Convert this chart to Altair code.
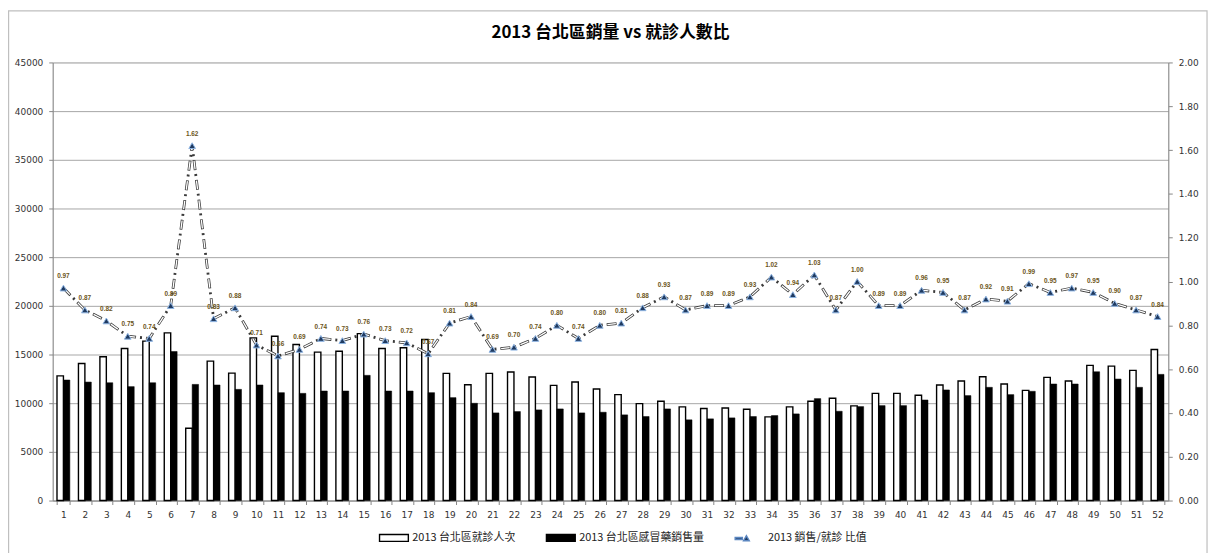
import altair as alt
import pandas as pd

# ---------------- data ----------------
weeks = list(range(1, 53))
visits = [12800, 14080, 14770, 15620, 16370, 17220, 7430, 14320, 13090, 16710,
          16880, 16030, 15240, 15340, 17150, 15620, 15690, 16540, 13060, 11900,
          13060, 13200, 12690, 11830, 12170, 11460, 10880, 9960, 10200, 9620,
          9450, 9510, 9380, 8590, 9620, 10200, 10500, 9720, 11010, 11010,
          10810, 11870, 12280, 12720, 11970, 11320, 12650, 12280, 13880, 13810,
          13370, 15520]
sales = [12380, 12170, 12100, 11700, 12100, 15310, 11930, 11870, 11420, 11870,
         11080, 11010, 11250, 11250, 12860, 11250, 11250, 11080, 10570, 9990,
         9000, 9140, 9310, 9410, 9000, 9070, 8800, 8630, 9410, 8290,
         8390, 8490, 8630, 8730, 8900, 10470, 9170, 9650, 9750, 9750,
         10330, 11360, 10780, 11630, 10880, 11220, 11970, 11970, 13230, 12480,
         11630, 12960]
ratio = [0.97, 0.87, 0.82, 0.75, 0.74, 0.89, 1.62, 0.83, 0.88, 0.71,
         0.66, 0.69, 0.74, 0.73, 0.76, 0.73, 0.72, 0.67, 0.81, 0.84,
         0.69, 0.70, 0.74, 0.80, 0.74, 0.80, 0.81, 0.88, 0.93, 0.87,
         0.89, 0.89, 0.93, 1.02, 0.94, 1.03, 0.87, 1.00, 0.89, 0.89,
         0.96, 0.95, 0.87, 0.92, 0.91, 0.99, 0.95, 0.97, 0.95, 0.90,
         0.87, 0.84]
left_ticks = list(range(0, 45001, 5000))
right_ticks = [round(i * 0.2, 2) for i in range(11)]

S_VISIT = "2013 台北區就診人次"
S_SALES = "2013 台北區感冒藥銷售量"
S_RATIO = "2013 銷售/就診 比值"
SERIES = [S_VISIT, S_SALES, S_RATIO]

TITLE = "2013 台北區銷量 vs 就診人數比"

bars_df = pd.DataFrame({
    "week": weeks * 2,
    "value": visits + sales,
    "series": [S_VISIT] * len(weeks) + [S_SALES] * len(weeks),
})
ratio_df = pd.DataFrame({
    "week": weeks,
    "ratio": ratio,
    "label": [f"{r:.2f}" for r in ratio],
})
legend_df = pd.DataFrame({"series": SERIES})

FONT = "DejaVu Sans"
CJK = "Noto Sans CJK TC"
AXIS_GRAY = "#868686"

# ---------------- encodings ----------------
x_enc = alt.X(
    "week:O",
    scale=alt.Scale(paddingInner=0.4, paddingOuter=0.2),
    axis=alt.Axis(title=None, labelAngle=0, tickBand="extent",
                  domainColor=AXIS_GRAY, tickColor=AXIS_GRAY, tickSize=4,
                  labelPadding=6, labelFont=FONT, labelFontSize=9,
                  labelColor="#333333", grid=False),
)
xoff = alt.XOffset("series:N", scale=alt.Scale(domain=[S_VISIT, S_SALES],
                                               paddingInner=0, paddingOuter=0))
y_left = alt.Y(
    "value:Q",
    scale=alt.Scale(domain=[0, 45000], nice=False),
    axis=alt.Axis(title=None, values=left_ticks, orient="left", grid=True,
                  format="d", gridColor="#A6A6A6", gridWidth=1,
                  domainColor=AXIS_GRAY, tickColor=AXIS_GRAY, tickSize=4,
                  labelPadding=6, labelFont=FONT, labelFontSize=9,
                  labelColor="#333333"),
)
y_right = alt.Y(
    "ratio:Q",
    scale=alt.Scale(domain=[0, 2], nice=False),
    axis=alt.Axis(title=None, values=right_ticks, orient="right", grid=False,
                  format=".2f", domainColor=AXIS_GRAY, tickColor=AXIS_GRAY,
                  tickSize=4, labelPadding=6, labelFont=FONT, labelFontSize=9,
                  labelColor="#333333"),
)

# ---------------- bars ----------------
bars_white = alt.Chart(bars_df).transform_filter(
    alt.datum.series == S_VISIT
).mark_bar(fill="white", stroke="black", strokeWidth=1.4).encode(
    x=x_enc, xOffset=xoff, y=y_left)

bars_black = alt.Chart(bars_df).transform_filter(
    alt.datum.series == S_SALES
).mark_bar(fill="black", stroke="black", strokeWidth=0.5).encode(
    x=x_enc, xOffset=xoff, y=y_left)

# legend only (no rows drawn)
RECT = "M-1,-0.24H1V0.24H-1Z"
LINE_TRI = "M-1,-0.07H-0.5V0.07H-1Z M-0.42,0.16 L-0.22,-0.2 L-0.02,0.16 Z"
leg = alt.Legend(title=None, orient="none", legendX=328, legendY=463,
                 direction="horizontal", symbolSize=841, symbolStrokeWidth=1.4,
                 labelFont=CJK, labelFontSize=11, labelColor="#222222",
                 labelOffset=3, columnPadding=28)
legend_layer = alt.Chart(legend_df).transform_filter("false").mark_point(
    filled=True, opacity=1
).encode(
    fill=alt.Fill("series:N", scale=alt.Scale(domain=SERIES,
                  range=["white", "black", "#1F3A60"]), legend=leg),
    shape=alt.Shape("series:N", scale=alt.Scale(domain=SERIES,
                    range=[RECT, RECT, LINE_TRI]), legend=leg),
    stroke=alt.Stroke("series:N", scale=alt.Scale(domain=SERIES,
                      range=["black", "black", "#5B86C0"]), legend=leg),
)

# light-gray frame around the whole chart area (decoration, not data)
frame = alt.Chart(legend_df).transform_filter("datum.series == '%s'" % S_VISIT).mark_rect(
    fill=None, stroke="#BFBFBF", strokeWidth=1.2
).encode(x=alt.value(-44.4), x2=alt.value(1162), y=alt.value(-52), y2=alt.value(520))

left = alt.layer(frame, bars_white, bars_black, legend_layer)

# ---------------- ratio line ----------------
line_dark = alt.Chart(ratio_df).mark_line(
    color="#3a3a3a", strokeWidth=2.8, strokeDash=[10, 4, 2, 4]
).encode(x=x_enc, y=y_right)
line_light = alt.Chart(ratio_df).mark_line(
    color="white", strokeWidth=1.3, strokeDash=[8.6, 11.4], strokeDashOffset=-0.7
).encode(x=x_enc, y=y_right)
points = alt.Chart(ratio_df).mark_point(
    shape="triangle-up", filled=True, fill="#1F3A60", stroke="#8EB4E3",
    strokeWidth=1, size=45, opacity=1
).encode(x=x_enc, y=y_right)
labels = alt.Chart(ratio_df).mark_text(
    dy=-12, font="Liberation Sans", fontSize=6.5, fontWeight="bold",
    color="#6B5418"
).encode(x=x_enc, y=y_right, text="label:N")

right = alt.layer(line_dark, line_light, points, labels)

chart = alt.layer(left, right).resolve_scale(y="independent").properties(
    width=1123, height=441,
    autosize=alt.AutoSizeParams(type="none"),
    padding={"left": 45, "top": 53, "right": 44, "bottom": 51},
    title=alt.TitleParams(TITLE, font=CJK, fontSize=17, fontWeight="bold",
                          anchor="middle", offset=-32, color="black"),
).configure_view(stroke=None).configure(background="white")

chart.save("out.html", embed_options={"renderer": "svg", "actions": False})
